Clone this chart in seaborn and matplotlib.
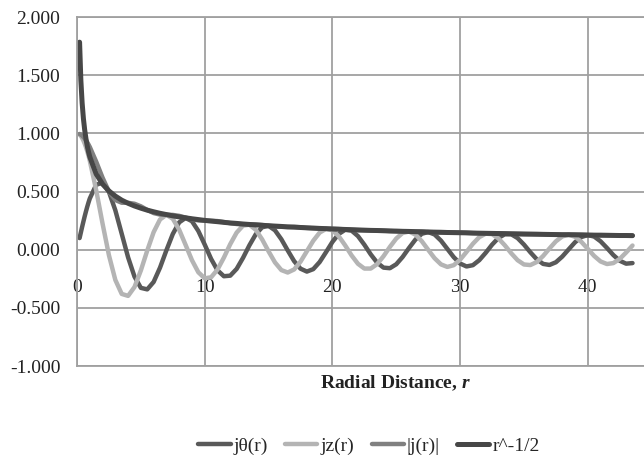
import matplotlib
matplotlib.use("Agg")
import matplotlib.pyplot as plt
import seaborn as sns

# radial distance samples
r = [0.2, 0.3, 0.4, 0.5, 0.6, 0.7, 0.8, 0.9, 1.0, 1.5, 2.0, 2.5, 3.0, 3.5, 4.0, 4.5,
     5.0, 5.5, 6.0, 6.5, 7.0, 7.5, 8.0, 8.5, 9.0, 9.5, 10.0, 10.5, 11.0, 11.5, 12.0,
     12.5, 13.0, 13.5, 14.0, 14.5, 15.0, 15.5, 16.0, 16.5, 17.0, 17.5, 18.0, 18.5,
     19.0, 19.5, 20.0, 20.5, 21.0, 21.5, 22.0, 22.5, 23.0, 23.5, 24.0, 24.5, 25.0,
     25.5, 26.0, 26.5, 27.0, 27.5, 28.0, 28.5, 29.0, 29.5, 30.0, 30.5, 31.0, 31.5,
     32.0, 32.5, 33.0, 33.5, 34.0, 34.5, 35.0, 35.5, 36.0, 36.5, 37.0, 37.5, 38.0,
     38.5, 39.0, 39.5, 40.0, 40.5, 41.0, 41.5, 42.0, 42.5, 43.0, 43.5]

j_theta = [0.100, 0.148, 0.196, 0.242, 0.287, 0.329, 0.369, 0.406, 0.440, 0.558,
           0.577, 0.497, 0.339, 0.137, -0.066, -0.231,
           -0.328, -0.341, -0.277, -0.154, -0.005, 0.135, 0.235, 0.273, 0.245, 0.161, 0.044,
           -0.079, -0.177, -0.228, -0.223, -0.165, -0.070, 0.038, 0.133, 0.193, 0.205,
           0.167, 0.090, -0.006, -0.098, -0.163, -0.188, -0.167, -0.106, -0.021, 0.067,
           0.136, 0.171, 0.164, 0.117, 0.043, -0.040, -0.111, -0.154, -0.159, -0.125,
           -0.062, 0.015, 0.087, 0.137, 0.152, 0.131, 0.078, 0.007, -0.064, -0.119,
           -0.144, -0.133, -0.090, -0.027, 0.043, 0.101, 0.133, 0.133, 0.100, 0.044,
           -0.022, -0.082, -0.122, -0.131, -0.108, -0.059, 0.003, 0.064, 0.109, 0.126,
           0.113, 0.072, 0.015, -0.046, -0.095, -0.120, -0.115]

j_z = [0.990, 0.978, 0.960, 0.938, 0.912, 0.881, 0.846, 0.808, 0.765, 0.512,
       0.224, -0.048, -0.260, -0.380, -0.397, -0.321,
       -0.178, -0.007, 0.151, 0.260, 0.300, 0.266, 0.172, 0.042, -0.090, -0.194, -0.246,
       -0.237, -0.171, -0.068, 0.048, 0.147, 0.207, 0.215, 0.171, 0.088, -0.014,
       -0.109, -0.175, -0.196, -0.170, -0.103, -0.013, 0.077, 0.147, 0.179, 0.167,
       0.115, 0.037, -0.049, -0.121, -0.162, -0.162, -0.124, -0.056, 0.024, 0.096,
       0.144, 0.156, 0.130, 0.073, -0.001, -0.073, -0.126, -0.148, -0.133, -0.086,
       -0.019, 0.051, 0.108, 0.138, 0.134, 0.097, 0.038, -0.030, -0.090, -0.127,
       -0.132, -0.106, -0.054, 0.011, 0.072, 0.114, 0.129, 0.111, 0.067, 0.007,
       -0.054, -0.101, -0.123, -0.115, -0.079, -0.024, 0.036]

j_abs = [0.995, 0.989, 0.980, 0.969, 0.956, 0.941, 0.923, 0.904, 0.883, 0.757,
         0.619, 0.499, 0.427, 0.404, 0.403, 0.395,
         0.373, 0.342, 0.315, 0.302, 0.300, 0.299, 0.291, 0.276, 0.262, 0.252, 0.250,
         0.249, 0.246, 0.238, 0.228, 0.221, 0.219, 0.218, 0.217, 0.212, 0.206,
         0.200, 0.197, 0.196, 0.196, 0.193, 0.188, 0.184, 0.181, 0.180, 0.180,
         0.178, 0.175, 0.171, 0.168, 0.167, 0.167, 0.166, 0.164, 0.161, 0.158,
         0.157, 0.157, 0.156, 0.155, 0.152, 0.150, 0.148, 0.148, 0.148, 0.147,
         0.145, 0.143, 0.141, 0.141, 0.141, 0.140, 0.138, 0.136, 0.135, 0.134,
         0.134, 0.134, 0.133, 0.131, 0.130, 0.129, 0.129, 0.129, 0.128, 0.126,
         0.125, 0.124, 0.124, 0.124, 0.123, 0.122, 0.121]

r_decay = [1.784, 1.457, 1.262, 1.128, 1.030, 0.954, 0.892, 0.841, 0.798, 0.651,
           0.564, 0.505, 0.461, 0.426, 0.399, 0.376,
           0.357, 0.340, 0.326, 0.313, 0.302, 0.291, 0.282, 0.274, 0.266, 0.259, 0.252,
           0.246, 0.241, 0.235, 0.230, 0.226, 0.221, 0.217, 0.213, 0.210, 0.206,
           0.203, 0.200, 0.196, 0.194, 0.191, 0.188, 0.186, 0.183, 0.181, 0.178,
           0.176, 0.174, 0.172, 0.170, 0.168, 0.166, 0.165, 0.163, 0.161, 0.160,
           0.158, 0.157, 0.155, 0.154, 0.152, 0.151, 0.150, 0.148, 0.147, 0.146,
           0.145, 0.143, 0.142, 0.141, 0.140, 0.139, 0.138, 0.137, 0.136, 0.135,
           0.134, 0.133, 0.132, 0.131, 0.130, 0.129, 0.129, 0.128, 0.127, 0.126,
           0.125, 0.125, 0.124, 0.123, 0.122, 0.122, 0.121]

labels = ['jθ(r)', 'jz(r)', '|j(r)|', 'r^-1/2']
colors = ['#595959', '#b4b4b4', '#808080', '#474747']
widths = [3.2, 3.2, 3.2, 3.6]
x_ticks = [0, 10, 20, 30, 40]
y_ticks = [-1.0, -0.5, 0.0, 0.5, 1.0, 1.5, 2.0]

sns.set_style('whitegrid')
plt.rcParams['font.family'] = ['Liberation Serif', 'DejaVu Serif']
plt.rcParams['axes.unicode_minus'] = False
plt.rcParams['mathtext.fontset'] = 'custom'
plt.rcParams['mathtext.it'] = 'Liberation Serif:bold:italic'
plt.rcParams['mathtext.rm'] = 'Liberation Serif'

fig = plt.figure(figsize=(6.44, 4.61), dpi=100)
ax = fig.add_axes([0.1196, 0.206, 0.8804, 0.757])

series = [j_theta, j_z, j_abs, r_decay]
for vals, lab, col, lw in zip(series, labels, colors, widths):
    sns.lineplot(x=r, y=vals, ax=ax, color=col, linewidth=lw, label=lab, sort=False)

ax.set_xlim(0, 44.4)
ax.set_ylim(-1, 2)
ax.set_yticks(y_ticks)
ax.set_yticklabels([f'{v:.3f}' for v in y_ticks])
ax.set_xticks(x_ticks)
ax.grid(True, color='#a0a0a0', linewidth=1.3)
ax.tick_params(axis='y', length=0, pad=12, labelsize=14, colors='#222222')
ax.tick_params(axis='x', length=0, labelbottom=False)
for side in ['top', 'bottom', 'left']:
    ax.spines[side].set_color('#a0a0a0')
    ax.spines[side].set_linewidth(1.3)
ax.spines['right'].set_visible(False)

# x tick labels sit under the zero line
sec = ax.secondary_xaxis(1 / 3)
sec.set_xticks(x_ticks)
sec.tick_params(length=0, pad=21, labelsize=14, colors='#222222')
for sp in sec.spines.values():
    sp.set_visible(False)

ax.set_xlabel('Radial Distance, $r$', fontsize=14, fontweight='bold', color='#222222')
ax.xaxis.set_label_coords(0.561, -0.02)

ax.legend(loc='center', bbox_to_anchor=(0.573, 0.033), bbox_transform=fig.transFigure,
          ncol=4, frameon=False, fontsize=14, handlelength=1.65, handletextpad=0.15,
          columnspacing=0.9)

fig.savefig('out.png', dpi=100)
